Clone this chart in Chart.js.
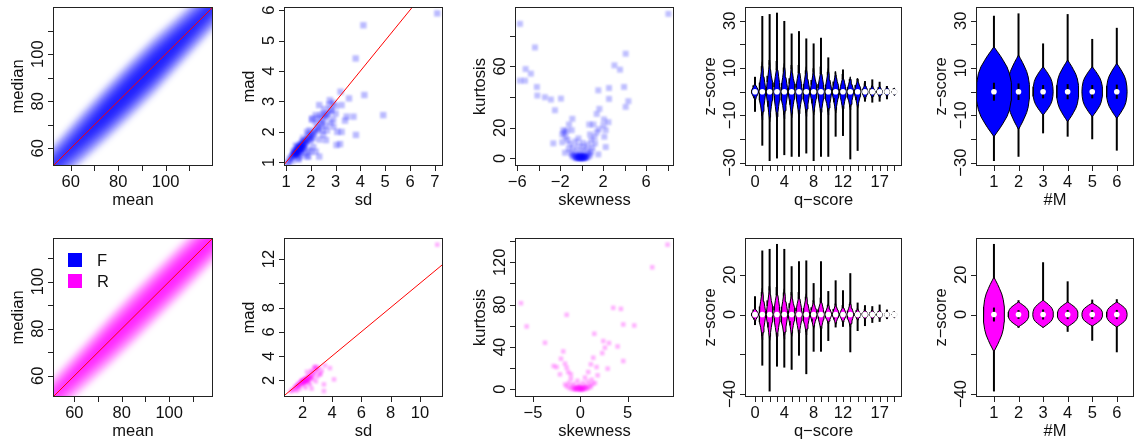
<!DOCTYPE html>
<html>
<head>
<meta charset="utf-8">
<script src="https://cdn.jsdelivr.net/npm/chart.js@4.4.1/dist/chart.umd.min.js"></script>
<style>
  body { margin: 0; background: #fff; width: 1136px; height: 443px; overflow: hidden; position: relative; }
  canvas { position: absolute; }
</style>
</head>
<body>
<script>
// ---------- data ----------
// density bands (median vs mean): half-widths of each shade layer at the knots
const bandKnots = [45, 55, 65, 75, 85, 95, 105, 115, 125];
const bandF = [
  [8, 9, 10.5, 11.5, 12, 12, 11, 10, 9],
  [5.5, 6.5, 8, 9, 9.5, 9.5, 8.5, 7.5, 6.5],
  [3.5, 4.5, 6, 7, 7.5, 7.5, 6.5, 5.5, 4.5],
  [1.5, 2.5, 4, 5.5, 6, 6, 5, 3.5, 2.5],
  [0, 1, 2.5, 4, 4.5, 4.5, 3.5, 2, 0.5],
  [0, 0, 1, 2.5, 3, 3, 2, 0.5, 0]
];
const bandR = [
  [7.5, 8.5, 9.5, 10.5, 11, 11, 11, 10.5, 10],
  [5, 6, 7, 8, 8.5, 8.5, 8.5, 8, 7.5],
  [3, 4, 5, 6, 6.5, 6.5, 6.5, 6, 5.5],
  [1.5, 2.5, 3.5, 4.5, 4.5, 5, 5, 4.5, 4],
  [0, 1, 2, 3, 3, 3.5, 3.5, 3, 2],
  [0, 0, 1, 1.5, 2, 2, 2, 1.5, 1]
];

// sd vs mad
const sdF = [1.15,1.2,1.25,1.3,1.35,1.4,1.45,1.5,1.55,1.6,1.65,1.7,1.75,1.8,1.4,1.5,1.6,1.7,1.3,1.45,1.55,1.65,1.8,1.9,2.0,1.9,2.0,2.1,2.2,2.1,2.3,2.2,2.4,2.5,2.6,2.7,2.8,2.9,2.75,2.5,2.3,2.05,2.2,2.45,2.6,2.35,2.1,1.9,1.75,1.6,1.85,1.5,1.25,1.1,1.05,2.0,2.2,2.5,2.65,2.8,3.0,3.0,2.9,2.55,2.4,1.95,1.85,1.7,1.4,1.35,1.5,1.6,1.45,
  1.3,1.4,1.5,1.6,1.7,1.45,1.55,1.65,1.35,1.75,1.85,1.95,2.05,1.6,1.5,1.4,1.7,2.15,2.3,2.45,
  4.12,3.81,7.1,4.92,4.16,3.82,3.2,3.54,3.24,3.72,3.45,3.38,3.04,3.18,2.34,2.77,2.84,2.34,2.61,3.07,2.91,3.24,2.64,2.06,1.9,1.5];
const madF = [1.1,1.15,1.2,1.25,1.3,1.35,1.4,1.45,1.45,1.5,1.55,1.6,1.65,1.7,1.3,1.35,1.45,1.5,1.35,1.5,1.6,1.7,1.6,1.75,1.85,1.9,1.7,1.95,2.05,1.8,2.1,2.3,2.25,2.4,2.5,2.6,2.7,2.95,2.9,2.6,2.45,2.4,2.55,2.05,2.2,1.75,1.5,1.4,1.3,1.2,1.2,1.1,1.05,1.0,0.95,1.35,1.35,1.9,2.05,2.3,2.6,2.85,2.4,2.75,2.55,2.05,2.0,1.8,1.55,1.4,1.5,1.35,1.3,
  1.2,1.3,1.4,1.4,1.5,1.35,1.5,1.6,1.25,1.7,1.75,1.8,1.9,1.55,1.3,1.25,1.45,2.0,2.15,2.3,
  5.5,4.41,5.89,2.55,3.21,1.9,3.32,3.1,2.88,2.5,2.5,2.37,1.57,1.6,2.88,3.04,2.72,1.19,1.73,2.0,2.17,2.0,2.55,2.44,1.19,1.13];
const sdR = [1.2,1.3,1.4,1.5,1.6,1.7,1.8,1.9,2.0,2.1,2.2,2.3,2.4,2.5,2.6,2.7,2.8,2.9,3.0,3.1,2.0,2.2,2.4,2.6,2.8,2.3,1.9,2.1,2.4,2.7,3.0,3.2,2.5,2.2,1.8,1.6,2.6,2.9,1.5,1.7,2.35,2.15,2.05,2.25,2.45,3.3,1.95,2.3,
  1.85,2.0,2.1,2.2,2.3,2.15,2.45,2.55,1.75,1.65,
  11.18,3.86,4.14,3.45,3.45,2.9,3.18,3.52,2.84,2.61];
const madR = [1.1,1.2,1.25,1.35,1.45,1.55,1.6,1.7,1.8,1.85,1.95,2.05,2.15,2.25,2.35,2.45,2.6,2.75,2.9,3.05,2.05,2.2,2.4,2.65,3.0,2.7,1.95,1.6,1.8,2.1,2.3,2.55,1.65,1.4,1.3,1.15,2.8,3.1,1.5,1.75,1.95,2.05,1.95,2.1,2.3,2.8,1.85,2.0,
  1.8,1.9,1.95,2.0,2.1,1.85,2.15,2.2,1.65,1.55,
  13.18,3.01,2.08,1.67,1.12,1.92,2.49,3.23,3.1,1.32];

// skewness vs kurtosis
const skewF = [-0.6,-0.4,-0.2,0,0.2,0.4,0.6,-0.8,-0.5,-0.3,0,0.3,0.5,-0.7,-0.2,0.2,0.7,-1,-0.5,0,0.5,0.9,-1.2,-0.8,-0.3,0.2,0.6,1,-1.1,-0.6,-1.3,-1.5,-1.6,-1.4,-0.3,0.1,0.9,1.2,1.4,1.6,-1.8,-0.2,-0.4,0.1,0.3,-0.1,-0.9,0.8,
  -0.5,-0.3,-0.1,0.1,0.3,-0.2,0,0.2,
  -5.75,8.08,-4.35,-5.22,-4.73,-5.75,-5.28,-4.17,-4.13,-3.42,-2.86,-1.93,-2.49,-2.64,4.1,3.05,3.57,2.55,1.55,3.95,2.55,4.35,4.1,1.65,1.4,2.08,2.49,2.24,2.02,1.09,0.71,-0.87,-1.18,-1.71,-1.8,-0.93,2.11,2.24,0.78,1.24,1.55,-1.55];
const kurtF = [0.5,0.3,0.2,0.1,0.2,0.4,0.8,1,1.5,1.2,1,1.3,1.8,2.5,2.8,3,3.5,3.5,4.5,5,5.5,4.5,6,7,8,7.5,9,7,9.5,11,12,14,17,18,13,10,12,14,17,19,10.5,0.6,0.8,0.4,0.7,1.6,2,2,
  0.4,0.6,0.3,0.5,0.9,1,0.8,1.1,
  87.8,94.3,72.4,58.3,55.3,50.7,50.7,46.6,41,39.9,38.4,39,31.4,9.8,68.3,60.7,57.9,45.9,44.4,46.6,38.8,37.3,33.6,32.3,29,25.4,23.6,18.4,21.5,22.1,22.1,25.8,22.1,18.4,15.6,18.4,14.1,7.4,15.6,9.8,2.6,3.7];
const skewR = [-0.8,-0.5,-0.2,0,0.2,0.4,0.7,-1.1,-0.6,-0.3,0.1,0.4,0.8,1.1,-1.4,-0.9,-0.4,0,0.5,1,1.3,-1.6,-1.2,-0.7,0.3,0.8,-0.3,1.2,-1,0.5,-0.1,-0.2,0.2,-0.6,0.6,
  -0.4,-0.1,0.1,0.3,
  9.22,7.6,-6.27,-1.44,-5.67,3.48,4.29,4.54,5.7,1.48,-3.73,2.43,3.03,2.6,3.94,2.32,-1.8,-2.04,1.37,4.54,-2.82,-2.5,-1.62,-1.44,-2.15,1.12,1.72,2.89,1.83,-1.0,-1.27,0.84,1.55];
const kurtR = [0.3,0.2,0.1,0,0.1,0.3,0.5,0.8,1,0.8,0.6,1,1.5,2,2.5,3,2.5,2,3,4,5,4.5,6,5,6,7,8,9,10,11,4,1.2,1.5,0.6,2,
  0.5,0.4,0.3,0.6,
  136.7,115.3,81.4,70.4,59.4,77,76,61.3,60.3,52.5,44,45.6,43.7,39.3,40.5,34.2,35.8,28.9,29.8,26.7,22,21,24.2,20.4,14.1,23.6,21,19.5,13.2,14.1,16.3,16.3,6];

// violins: z-score by q-score (0..19)
const qScore = [0,1,2,3,4,5,6,7,8,9,10,11,12,13,14,15,16,17,18,19];
const qWhiskHiF = [6.3,32,32.8,33.4,29.9,24.6,25.6,22.5,20.4,22.8,14.5,7,9.4,5.4,5.4,4.5,5.2,4.2,2.4,1.5];
const qWhiskLoF = [-8.5,-22.8,-29.3,-28.2,-26.8,-27.5,-27.5,-26.1,-29.3,-27.5,-27.5,-19,-18.7,-28.6,-25,-4.2,-4.6,-4.2,-3.2,-1.5];
const qVioHiF = [3.8,12.7,13.4,13,12,11.3,11.3,10.6,9.9,10.6,9.9,8.5,7.5,6.3,5.6,3.5,2.8,2.6,2.2,1.6];
const qVioLoF = [-3.8,-12,-12.7,-12.5,-11.5,-11,-11,-10.5,-9.9,-10.3,-9.9,-9,-8.5,-7.7,-7,-3.5,-2.8,-2.6,-2.2,-1.6];
const qVioWF = [0.5,0.45,0.45,0.45,0.45,0.45,0.45,0.45,0.45,0.45,0.45,0.45,0.45,0.45,0.45,0.42,0.4,0.4,0.38,0.35];
const qWhiskHiR = [9.2,32.2,33,35.5,33,24.3,26.8,27.2,15.8,26.8,11.8,17.2,12.2,20.8,6,4.7,4.2,5,2.5,1.5];
const qWhiskLoR = [-5.3,-25.7,-38.7,-26.2,-26.7,-27.8,-20.7,-30,-18.7,-18.7,-13.3,-6.5,-6.2,-19,-8.3,-5.8,-4.2,-3.7,-2.3,-1.5];
const qVioHiR = [3.5,13.3,14.2,13.8,13,11.3,11.3,10.5,7.2,8.5,5.5,5.5,4.7,6.3,3,2.6,2.5,2.4,2,1.6];
const qVioLoR = [-3.5,-12.8,-13,-13,-12.5,-11,-11,-10.3,-7,-8.3,-4.8,-5,-4.5,-6.5,-3,-2.6,-2.5,-2.4,-2,-1.6];
const qVioWR = [0.5,0.45,0.45,0.45,0.45,0.45,0.45,0.45,0.45,0.45,0.45,0.45,0.45,0.45,0.42,0.42,0.4,0.4,0.38,0.35];

// violins: z-score by #M (1..6)
const mGroup = [1,2,3,4,5,6];
const mWhiskHiF = [32.1,33.1,20.4,32.8,22.3,27];
const mWhiskLoF = [-29.3,-27.5,-17.6,-19,-20.1,-24.9];
const mVioHiF = [19,15.5,10.6,13.4,10.6,12];
const mVioLoF = [-19,-16,-9.9,-12.7,-10.6,-11.3];
const mVioWF = [0.72,0.45,0.41,0.45,0.42,0.42];
const mBoxF = [3.8,3.5,2.8,3.2,2.8,3];
const mWhiskHiR = [35.5,7.2,26.3,16.7,7.5,7.7];
const mWhiskLoR = [-38.7,-6.7,-6.5,-8.7,-13.2,-19];
const mVioHiR = [18.8,6.3,7.2,6.3,5.8,6.3];
const mVioLoR = [-18.7,-6.2,-6.5,-6.2,-5.8,-6.3];
const mVioWR = [0.43,0.42,0.42,0.42,0.42,0.42];
const mBoxR = [3.5,2.2,2.5,2.3,2.2,2.3];

// violin outline templates (relative height -> relative half width)
const profQ = { t: [0,0.15,0.3,0.5,0.7,0.85,1], w: [1,0.9,0.75,0.5,0.28,0.12,0] };
const profM = { t: [0,0.2,0.4,0.55,0.7,0.8,0.9,1], w: [1,0.97,0.88,0.74,0.52,0.36,0.18,0] };

// tick marks and labels
const ticksMean = [60,70,80,90,100,110], labsMean = [60,80,100];
const ticksSdF = [1,2,3,4,5,6,7], ticksMadF = [1,2,3,4,5,6];
const ticksSkewF = [-6,-4,-2,0,2,4,6,8], labsSkewF = [-6,-2,2,6];
const ticksKurtF = [0,20,40,60,80], labsKurtF = [0,20,60];
const labsQ = [0,4,8,12,17];
const ticksZF = [-30,-20,-10,0,10,20,30], labsZF = [-30,-10,10,30];
const ticksSdR = [2,4,6,8,10];
const ticksMadR = [2,4,6,8,10,12], labsMadR = [2,4,6,8,12];
const ticksSkewR = [-5,0,5];
const ticksKurtR = [0,20,40,60,80,100,120,140], labsKurtR = [0,40,80,120];
const ticksZR = [-40,-20,0,20], labsZR = [-40,0,20];

const BLUE = '#0000FF', MAG = '#FF00FF';
const FONT = '16.5px "Liberation Sans", Arial, sans-serif';

// ---------- dataset builders ----------
function diagLine(lo, hi) {
  return { data: [{x: lo, y: lo}, {x: hi, y: hi}], showLine: true, borderColor: '#FF0000',
           borderWidth: 1, pointRadius: 0, order: 0 };
}

function bandSets(layers, rgba) {
  return layers.map(hw => {
    const up = bandKnots.map((m, i) => ({x: m, y: m + hw[i]}));
    const dn = bandKnots.map((m, i) => ({x: m, y: m - hw[i]})).reverse();
    return { data: up.concat(dn), showLine: true, fill: 'shape', backgroundColor: rgba,
             borderColor: 'rgba(0,0,0,0)', borderWidth: 0, pointRadius: 0, order: 5 };
  });
}

function pointSet(xs, ys, rgba, r) {
  return { data: xs.map((v, i) => ({x: v, y: ys[i]})), pointStyle: 'rect', pointRadius: r,
           backgroundColor: rgba, borderWidth: 0, blur: 1, order: 3 };
}

function violinSets(xs, lo, hi, wlo, whi, hw, box, prof, color) {
  const out = [];
  xs.forEach((x, i) => {
    const right = [], left = [];
    for (let k = prof.t.length - 1; k >= 0; k--) right.push({x: x + hw[i] * prof.w[k], y: lo[i] * prof.t[k]});
    for (let k = 1; k < prof.t.length; k++) right.push({x: x + hw[i] * prof.w[k], y: hi[i] * prof.t[k]});
    for (let k = right.length - 1; k >= 0; k--) left.push({x: 2 * x - right[k].x, y: right[k].y});
    out.push({ data: right.concat(left.slice(1)), showLine: true, fill: 'shape', backgroundColor: color,
               borderColor: '#000', borderWidth: 1, pointRadius: 0, order: 2 });
    if (whi[i] > hi[i] || wlo[i] < lo[i]) {
      out.push({ data: [{x: x, y: wlo[i]}, {x: x, y: whi[i]}], showLine: true, borderColor: '#000',
                 borderWidth: 2, pointRadius: 0, order: 3 });
    }
    if (box) {
      out.push({ data: [{x: x, y: -box[i]}, {x: x, y: box[i]}], showLine: true, borderColor: '#000',
                 borderWidth: 2, pointRadius: 0, order: 1 });
    }
  });
  out.push({ data: xs.map(x => ({x: x, y: 0})), pointRadius: 2.8, backgroundColor: '#fff',
             borderWidth: 0, order: 0 });
  return out;
}

// ---------- plugins ----------
const fmt = v => String(v).replace('-', '\u2212');

function rAxes(p) {
  return {
    id: 'raxes',
    afterDraw(chart) {
      const {ctx, chartArea: a, scales: {x, y}} = chart;
      ctx.save();
      ctx.strokeStyle = '#222';
      ctx.lineWidth = 1;
      ctx.strokeRect(a.left + 0.5, a.top + 0.5, a.right - a.left - 1, a.bottom - a.top - 1);
      ctx.beginPath();
      p.xt.forEach(v => {
        const px = Math.round(x.getPixelForValue(v)) + 0.5;
        ctx.moveTo(px, a.bottom); ctx.lineTo(px, a.bottom + 5);
      });
      p.yt.forEach(v => {
        const py = Math.round(y.getPixelForValue(v)) + 0.5;
        ctx.moveTo(a.left - 5, py); ctx.lineTo(a.left, py);
      });
      ctx.stroke();
      ctx.fillStyle = '#111';
      ctx.font = FONT;
      ctx.textAlign = 'center';
      ctx.textBaseline = 'alphabetic';
      (p.xl || p.xt).forEach(v => ctx.fillText(fmt(v), x.getPixelForValue(v), a.bottom + 21));
      ctx.fillText(p.xTitle, (a.left + a.right) / 2, a.bottom + 39);
      (p.yl || p.yt).forEach(v => {
        ctx.save();
        ctx.translate(a.left - 10, y.getPixelForValue(v));
        ctx.rotate(-Math.PI / 2);
        ctx.fillText(fmt(v), 0, 0);
        ctx.restore();
      });
      ctx.save();
      ctx.translate(a.left - 30, (a.top + a.bottom) / 2);
      ctx.rotate(-Math.PI / 2);
      ctx.fillText(p.yTitle, 0, 0);
      ctx.restore();
      if (p.legend) {
        ctx.textAlign = 'left';
        [['F', BLUE], ['R', MAG]].forEach((e, i) => {
          const top = a.top + 15 + i * 21;
          ctx.fillStyle = e[1];
          ctx.fillRect(a.left + 15, top, 14, 14);
          ctx.fillStyle = '#111';
          ctx.fillText(e[0], a.left + 44, top + 13);
        });
      }
      ctx.restore();
    }
  };
}

// soft look of smoothScatter output: blur fills and points, keep the red line sharp
const blurPlugin = {
  id: 'softpoints',
  beforeDraw(chart) { if (chart.$soft) chart.ctx.filter = 'blur(' + chart.$soft + 'px)'; },
  beforeDatasetDraw(chart, args) {
    if (!chart.$soft) return;
    const ds = chart.data.datasets[args.index];
    chart.ctx.filter = ds.blur ? 'blur(' + ds.blur + 'px)' : 'none';
  },
  afterDatasetsDraw(chart) { chart.ctx.filter = 'none'; }
};

// ---------- panels ----------
const cols = [53, 284, 515, 745, 976], colW = [160, 159, 159, 157, 158];
const rows = [7, 238], rowH = 159;

const panels = [
  { c: 0, r: 0, x: [52.5, 120], y: [52.5, 120], xt: ticksMean, xl: labsMean, yt: ticksMean, yl: labsMean,
    xTitle: 'mean', yTitle: 'median', soft: 3,
    ds: [diagLine(0, 200)].concat(bandSets(bandF, 'rgba(0,0,255,0.3)')) },
  { c: 1, r: 0, x: [0.92, 7.33], y: [0.88, 6.1], xt: ticksSdF, yt: ticksMadF,
    xTitle: 'sd', yTitle: 'mad', soft: 1,
    ds: [diagLine(0, 20), pointSet(sdF, madF, 'rgba(0,0,255,0.27)', 4.5)] },
  { c: 2, r: 0, x: [-6.21, 8.6], y: [-5, 98.8], xt: ticksSkewF, xl: labsSkewF, yt: ticksKurtF, yl: labsKurtF,
    xTitle: 'skewness', yTitle: 'kurtosis', soft: 1,
    ds: [pointSet(skewF, kurtF, 'rgba(0,0,255,0.25)', 4.2)] },
  { c: 3, r: 0, x: [-1.36, 20.05], y: [-31.4, 35.8], xt: qScore, xl: labsQ, yt: ticksZF, yl: labsZF,
    xTitle: 'q\u2212score', yTitle: 'z\u2212score',
    ds: violinSets(qScore, qVioLoF, qVioHiF, qWhiskLoF, qWhiskHiF, qVioWF, null, profQ, BLUE) },
  { c: 4, r: 0, x: [0.27, 6.7], y: [-31.4, 35.8], xt: mGroup, yt: ticksZF, yl: labsZF,
    xTitle: '#M', yTitle: 'z\u2212score',
    ds: violinSets(mGroup, mVioLoF, mVioHiF, mWhiskLoF, mWhiskHiF, mVioWF, mBoxF, profM, BLUE) },
  { c: 0, r: 1, x: [51, 118.5], y: [51, 118.5], xt: ticksMean, xl: labsMean, yt: ticksMean, yl: labsMean,
    xTitle: 'mean', yTitle: 'median', soft: 3, legend: true,
    ds: [diagLine(0, 200)].concat(bandSets(bandR, 'rgba(255,0,255,0.3)')) },
  { c: 1, r: 1, x: [0.73, 11.57], y: [0.63, 13.73], xt: ticksSdR, yt: ticksMadR, yl: labsMadR,
    xTitle: 'sd', yTitle: 'mad', soft: 1,
    ds: [diagLine(0, 20), pointSet(sdR, madR, 'rgba(255,0,255,0.3)', 3.2)] },
  { c: 2, r: 1, x: [-6.9, 9.9], y: [-7.3, 143], xt: ticksSkewR, yt: ticksKurtR, yl: labsKurtR,
    xTitle: 'skewness', yTitle: 'kurtosis', soft: 1,
    ds: [pointSet(skewR, kurtR, 'rgba(255,0,255,0.3)', 3.2)] },
  { c: 3, r: 1, x: [-1.36, 20.05], y: [-41.5, 38.5], xt: qScore, xl: labsQ, yt: ticksZR, yl: labsZR,
    xTitle: 'q\u2212score', yTitle: 'z\u2212score',
    ds: violinSets(qScore, qVioLoR, qVioHiR, qWhiskLoR, qWhiskHiR, qVioWR, null, profQ, MAG) },
  { c: 4, r: 1, x: [0.27, 6.7], y: [-41.5, 38.5], xt: mGroup, yt: ticksZR, yl: labsZR,
    xTitle: '#M', yTitle: 'z\u2212score',
    ds: violinSets(mGroup, mVioLoR, mVioHiR, mWhiskLoR, mWhiskHiR, mVioWR, mBoxR, profM, MAG) }
];

panels.forEach(p => {
  const bx = cols[p.c], by = rows[p.r], bw = colW[p.c];
  const cv = document.createElement('canvas');
  cv.width = bw + 66; cv.height = rowH + 58;
  cv.style.left = (bx - 60) + 'px';
  cv.style.top = (by - 8) + 'px';
  document.body.appendChild(cv);
  const chart = new Chart(cv, {
    type: 'scatter',
    data: { datasets: p.ds },
    options: {
      responsive: false,
      animation: false,
      events: [],
      layout: { padding: { left: 60, top: 8, right: 6, bottom: 50 } },
      plugins: {
        legend: { display: false },
        tooltip: { enabled: false },
        filler: { drawTime: p.soft ? 'beforeDatasetsDraw' : 'beforeDatasetDraw' }
      },
      scales: {
        x: { type: 'linear', min: p.x[0], max: p.x[1], display: false },
        y: { type: 'linear', min: p.y[0], max: p.y[1], display: false }
      }
    },
    plugins: [blurPlugin, rAxes(p)]
  });
  chart.$soft = p.soft || 0;
  chart.draw();
});
</script>
</body>
</html>
